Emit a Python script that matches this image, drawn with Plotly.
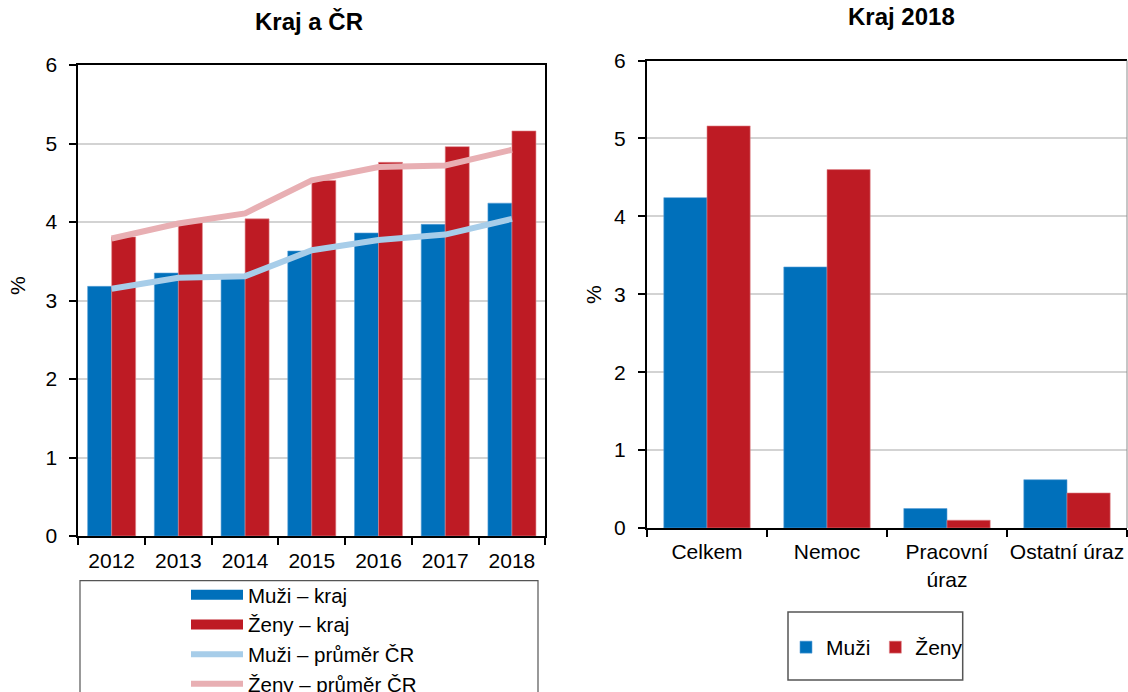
import plotly.graph_objects as go

# Left panel: region vs. national average, 2012–2018
years = ["2012", "2013", "2014", "2015", "2016", "2017", "2018"]
muzi_kraj = [3.18, 3.35, 3.30, 3.63, 3.86, 3.97, 4.24]
zeny_kraj = [3.81, 3.99, 4.04, 4.53, 4.76, 4.96, 5.16]
muzi_cr = [3.15, 3.29, 3.31, 3.64, 3.77, 3.84, 4.04]
zeny_cr = [3.79, 3.98, 4.11, 4.53, 4.70, 4.72, 4.92]

# Right panel: region 2018 by cause
duvody = ["Celkem", "Nemoc", "Pracovní<br>úraz", "Ostatní úraz"]
muzi_2018 = [4.24, 3.35, 0.25, 0.62]
zeny_2018 = [5.16, 4.60, 0.10, 0.45]

y_ticks = [0, 1, 2, 3, 4, 5, 6]

BLUE = "#0070bb"
RED = "#be1b24"
LIGHT_BLUE = "#a7cde9"
PINK = "#e8afb3"
FONT = "Liberation Sans, Arial, sans-serif"

W, H = 1128, 692


def px(x):
    return x / W


def py(y):
    return 1 - y / H


fig = go.Figure()

# --- left panel ---
fig.add_trace(go.Bar(x=years, y=muzi_kraj, name="Muži – kraj", marker=dict(color=BLUE, line=dict(color="#5a9fd6", width=0.6)),
                     xaxis="x", yaxis="y", showlegend=False))
fig.add_trace(go.Bar(x=years, y=zeny_kraj, name="Ženy – kraj", marker=dict(color=RED, line=dict(color="#e08a8f", width=0.6)),
                     xaxis="x", yaxis="y", showlegend=False))
# wide swatches for the bar series in the legend
fig.add_trace(go.Scatter(x=[None], y=[None], mode="lines", name="Muži – kraj", line=dict(color=BLUE, width=10),
                         xaxis="x", yaxis="y", legend="legend"))
fig.add_trace(go.Scatter(x=[None], y=[None], mode="lines", name="Ženy – kraj", line=dict(color=RED, width=10),
                         xaxis="x", yaxis="y", legend="legend"))
fig.add_trace(go.Scatter(x=years, y=muzi_cr, mode="lines", name="Muži – průměr ČR", line=dict(color=LIGHT_BLUE, width=6),
                         xaxis="x", yaxis="y", legend="legend"))
fig.add_trace(go.Scatter(x=years, y=zeny_cr, mode="lines", name="Ženy – průměr ČR", line=dict(color=PINK, width=6),
                         xaxis="x", yaxis="y", legend="legend"))

# --- right panel ---
fig.add_trace(go.Bar(x=duvody, y=muzi_2018, name="Muži", marker=dict(color=BLUE, line=dict(color="#5a9fd6", width=0.6)),
                     xaxis="x2", yaxis="y2", legend="legend2"))
fig.add_trace(go.Bar(x=duvody, y=zeny_2018, name="Ženy", marker=dict(color=RED, line=dict(color="#e08a8f", width=0.6)),
                     xaxis="x2", yaxis="y2", legend="legend2"))

axis_common = dict(showline=True, linecolor="black", linewidth=2, ticks="outside", tickcolor="black",
                   tickfont=dict(size=21, color="black", family=FONT))

fig.update_layout(
    width=W, height=H,
    margin=dict(l=0, r=0, t=0, b=0, autoexpand=False),
    paper_bgcolor="white", plot_bgcolor="white",
    font=dict(family=FONT, size=21, color="black"),
    barmode="group", bargap=0.28, bargroupgap=0,
    xaxis=dict(domain=[px(78.3), px(545.3)], type="category", mirror=True, tickson="boundaries",
               ticklen=7, tickwidth=2, showgrid=False, anchor="y", ticklabelstandoff=5, tickangle=0,
               **axis_common),
    yaxis=dict(domain=[py(536), py(65)], range=[0, 6], tickvals=y_ticks, mirror=True, ticklen=7, tickwidth=1.5,
               showgrid=True, gridcolor="#d3d3d3", gridwidth=1.5, zeroline=False, ticklabelstandoff=8,
               anchor="x", **axis_common),
    xaxis2=dict(domain=[px(647), px(1127)], type="category", mirror=True, tickson="boundaries",
                ticklen=7, tickwidth=2, showgrid=False, anchor="y2", ticklabelstandoff=4, tickangle=0,
                **axis_common),
    yaxis2=dict(domain=[py(528), py(60.5)], range=[0, 6], tickvals=y_ticks, ticklen=7, tickwidth=1.5,
                showgrid=True, gridcolor="#d3d3d3", gridwidth=1.5, zeroline=False, ticklabelstandoff=8,
                anchor="x2", **axis_common),
    legend=dict(x=px(186), y=py(575), xanchor="left", yanchor="top", orientation="v",
                bgcolor="rgba(0,0,0,0)", borderwidth=0, itemwidth=52, itemclick=False, tracegroupgap=0,
                font=dict(size=20.5, family=FONT, color="black")),
    legend2=dict(x=px(786), y=py(627), xanchor="left", yanchor="top", orientation="h",
                 bgcolor="rgba(0,0,0,0)", borderwidth=0, itemclick=False,
                 font=dict(size=21, family=FONT, color="black")),
    annotations=[
        dict(text="<b>Kraj a ČR</b>", x=px(309), y=py(21), xref="paper", yref="paper", showarrow=False,
             xanchor="center", yanchor="middle", font=dict(size=24, family=FONT, color="black")),
        dict(text="<b>Kraj 2018</b>", x=px(901), y=py(17), xref="paper", yref="paper", showarrow=False,
             xanchor="center", yanchor="middle", font=dict(size=24, family=FONT, color="black")),
        dict(text="%", x=px(17), y=py(286), xref="paper", yref="paper", showarrow=False, textangle=-90,
             xanchor="center", yanchor="middle", font=dict(size=21, family=FONT, color="black")),
        dict(text="%", x=px(594), y=py(295), xref="paper", yref="paper", showarrow=False, textangle=-90,
             xanchor="center", yanchor="middle", font=dict(size=21, family=FONT, color="black")),
    ],
    shapes=[
        # legend frames
        dict(type="rect", xref="paper", yref="paper", x0=px(80), x1=px(538), y0=py(720), y1=py(580.7),
             line=dict(color="#555555", width=1.2), fillcolor="rgba(0,0,0,0)", layer="below"),
        dict(type="rect", xref="paper", yref="paper", x0=px(788), x1=px(962.7), y0=py(680), y1=py(612),
             line=dict(color="#555555", width=1.5), fillcolor="rgba(0,0,0,0)", layer="below"),
        # thin right border of the right panel
        dict(type="line", xref="x2 domain", yref="y2 domain", x0=1, x1=1, y0=0, y1=1,
             line=dict(color="#8c8c8c", width=1)),
    ],
)

fig.write_html("out.html")
